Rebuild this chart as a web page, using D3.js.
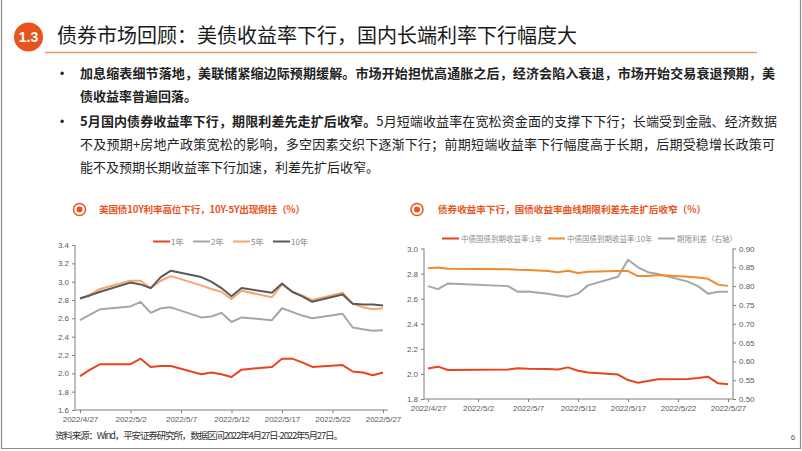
<!DOCTYPE html>
<html><head><meta charset="utf-8">
<script src="https://cdn.jsdelivr.net/npm/d3@7/dist/d3.min.js"></script>
<style>
html,body{margin:0;padding:0;background:#fff;}
svg{display:block;}
</style></head><body>
<svg id="c" width="802" height="451"></svg>
<script>
// ---------- DATA ----------
const usDates = ["2022-04-27","2022-04-28","2022-04-29","2022-05-02","2022-05-03","2022-05-04","2022-05-05","2022-05-06","2022-05-09","2022-05-10","2022-05-11","2022-05-12","2022-05-13","2022-05-16","2022-05-17","2022-05-18","2022-05-19","2022-05-20","2022-05-23","2022-05-24","2022-05-25","2022-05-26","2022-05-27"];
const us1Y  = [1.97,2.04,2.10,2.10,2.16,2.07,2.08,2.08,1.99,2.01,1.99,1.96,2.04,2.07,2.16,2.16,2.12,2.07,2.09,2.02,2.01,1.98,2.01];
const us2Y  = [2.58,2.64,2.70,2.73,2.78,2.66,2.71,2.72,2.61,2.62,2.66,2.56,2.61,2.58,2.71,2.67,2.63,2.60,2.65,2.50,2.48,2.465,2.47];
const us5Y  = [2.81,2.86,2.92,3.01,3.01,2.93,3.01,3.06,2.96,2.92,2.89,2.81,2.90,2.83,2.97,2.89,2.85,2.80,2.88,2.76,2.72,2.70,2.71];
const us10Y = [2.82,2.85,2.89,2.99,2.97,2.93,3.05,3.12,3.05,3.00,2.93,2.84,2.93,2.88,2.98,2.89,2.84,2.78,2.86,2.76,2.75,2.75,2.74];
const usNames = ["1年","2年","5年","10年"];

const cnDates = ["2022-04-27","2022-04-28","2022-04-29","2022-05-05","2022-05-06","2022-05-07","2022-05-09","2022-05-10","2022-05-11","2022-05-12","2022-05-13","2022-05-16","2022-05-17","2022-05-18","2022-05-19","2022-05-20","2022-05-23","2022-05-24","2022-05-25","2022-05-26","2022-05-27"];
const cn1Y   = [2.044,2.058,2.031,2.035,2.045,2.042,2.040,2.035,2.052,2.025,2.012,1.995,1.951,1.930,1.943,1.957,1.960,1.968,1.978,1.925,1.917];
const cn10Y  = [2.843,2.849,2.838,2.835,2.830,2.828,2.820,2.810,2.822,2.804,2.814,2.820,2.820,2.780,2.780,2.788,2.775,2.768,2.758,2.712,2.702];
const cnSpread = [0.800,0.792,0.807,0.800,0.785,0.786,0.780,0.775,0.772,0.780,0.802,0.825,0.870,0.850,0.837,0.832,0.812,0.800,0.780,0.785,0.785];
const cnNames = ["中债国债到期收益率:1年","中债国债到期收益率:10年","期限利差（右轴）"];

const xTickDates = ["2022-04-27","2022-05-02","2022-05-07","2022-05-12","2022-05-17","2022-05-22","2022-05-27"];
const leftYTicks = [1.6,1.8,2.0,2.2,2.4,2.6,2.8,3.0,3.2,3.4];
const rightLYTicks = [1.8,2.0,2.2,2.4,2.6,2.8,3.0];
const rightRYTicks = [0.50,0.55,0.60,0.65,0.70,0.75,0.80,0.85,0.90];

// ---------- SETUP ----------
const parse = d3.timeParse("%Y-%m-%d");
const fmt = d3.timeFormat("%Y/%-m/%-d");
const svg = d3.select("#c");
const CJK = "'Noto Sans CJK SC','Noto Sans',sans-serif";
const LAT = "'Liberation Sans',Arial,sans-serif";
const ORANGE = "#E8541E";

// page frame
svg.append("path").attr("d","M1.5,0 V448.5 H800.5 V0").attr("fill","none").attr("stroke","#8a8a8a").attr("stroke-width",1.2);

// header badge & title
svg.append("circle").attr("cx",28.5).attr("cy",37).attr("r",14.5).attr("fill",ORANGE);
svg.append("text").attr("x",28.5).attr("y",42).attr("text-anchor","middle").attr("fill","#fff")
  .attr("font-family",LAT).attr("font-weight","bold").attr("font-size",14).text("1.3");
svg.append("text").attr("x",57).attr("y",43).attr("font-family",CJK).attr("font-size",20).attr("fill","#1a1a1a")
  .attr("textLength",520).attr("lengthAdjust","spacing")
  .text("债券市场回顾：美债收益率下行，国内长端利率下行幅度大");
svg.append("line").attr("x1",45).attr("x2",757).attr("y1",52.5).attr("y2",52.5).attr("stroke","#E8976A").attr("stroke-width",1.5);

// bullets
function bulletLine(y, parts, len){
  const t = svg.append("text").attr("x",80).attr("y",y).attr("font-family",CJK).attr("font-size",13).attr("fill","#222");
  if(len) t.attr("textLength",len).attr("lengthAdjust","spacing");
  parts.forEach(p=>t.append("tspan").attr("font-weight",p[1]?"bold":"normal").text(p[0]));
}
[[78],[126]].forEach(b=>svg.append("text").attr("x",60).attr("y",b[0]).attr("font-family",LAT).attr("font-size",12).attr("fill","#222").text("•"));
bulletLine(78,[["加息缩表细节落地，美联储紧缩边际预期缓解。市场开始担忧高通胀之后，经济会陷入衰退，市场开始交易衰退预期，美",1]],695);
bulletLine(101,[["债收益率普遍回落。",1]]);
bulletLine(126,[["5月国内债券收益率下行，期限利差先走扩后收窄。",1],["5月短端收益率在宽松资金面的支撑下下行；长端受到金融、经济数据",0]],697);
bulletLine(149,[["不及预期+房地产政策宽松的影响，多空因素交织下逐渐下行；前期短端收益率下行幅度高于长期，后期受稳增长政策可",0]],695);
bulletLine(172,[["能不及预期长期收益率下行加速，利差先扩后收窄。",0]]);

// chart titles
function chartTitle(cx, tx, txt, len){
  svg.append("circle").attr("cx",cx).attr("cy",209.5).attr("r",6).attr("fill","none").attr("stroke",ORANGE).attr("stroke-width",1.5);
  svg.append("circle").attr("cx",cx).attr("cy",209.5).attr("r",3).attr("fill",ORANGE);
  svg.append("text").attr("x",tx).attr("y",213).attr("font-family",CJK).attr("font-weight","bold").attr("font-size",9.6)
    .attr("fill",ORANGE).attr("textLength",len).attr("lengthAdjust","spacing").text(txt);
}
chartTitle(79.5,99,"美国债10Y利率高位下行，10Y-5Y出现倒挂（%）",206);
chartTitle(417,438,"债券收益率下行，国债收益率曲线期限利差先走扩后收窄（%）",268);

// footer
svg.append("text").attr("x",55).attr("y",439).attr("font-family",CJK).attr("font-size",9.6).attr("fill","#333")
  .attr("textLength",288).attr("lengthAdjust","spacing")
  .text("资料来源：Wind，平安证券研究所，数据区间2022年4月27日-2022年5月27日。");
svg.append("text").attr("x",793).attr("y",440).attr("font-family",LAT).attr("font-size",8).attr("fill","#555").attr("text-anchor","middle").text("6");

function styleAxis(g){
  g.selectAll("path").remove();
  g.selectAll("line").attr("stroke","#7f7f7f");
  g.selectAll("text").attr("fill","#595959").attr("font-family",LAT).attr("font-size",8);
}

// ---------- LEFT CHART ----------
{
  const x = d3.scaleTime().domain([parse("2022-04-27"),parse("2022-05-27")]).range([80,383]);
  const y = d3.scaleLinear().domain([1.6,3.4]).range([410,245]);
  const L = {x0:75, x1:388};
  svg.append("line").attr("x1",L.x0).attr("x2",L.x0).attr("y1",245).attr("y2",410).attr("stroke","#7f7f7f");
  svg.append("line").attr("x1",L.x0).attr("x2",L.x1).attr("y1",410).attr("y2",410).attr("stroke","#7f7f7f");
  svg.append("g").attr("transform",`translate(${L.x0},0)`)
    .call(d3.axisLeft(y).tickValues(leftYTicks).tickFormat(d3.format(".1f")).tickSize(3).tickPadding(3)).call(styleAxis);
  svg.append("g").attr("transform","translate(0,410)")
    .call(d3.axisBottom(x).tickValues(xTickDates.map(parse)).tickFormat(fmt).tickSize(3).tickPadding(3)).call(styleAxis);
  const series = [us1Y,us2Y,us5Y,us10Y];
  const colors = ["#E8441E","#A6A6A6","#F5A66E","#5A5A5A"];
  const dates = usDates.map(parse);
  const line = d3.line().x((d,i)=>x(dates[i])).y(d=>y(d));
  [1,2,3,0].forEach(k=>{
    svg.append("path").datum(series[k]).attr("d",line).attr("fill","none").attr("stroke",colors[k]).attr("stroke-width",2).attr("stroke-linejoin","round");
  });
  const lx = [153,193,233,273];
  usNames.forEach((n,i)=>{
    svg.append("line").attr("x1",lx[i]).attr("x2",lx[i]+17).attr("y1",241.5).attr("y2",241.5).attr("stroke",colors[i]).attr("stroke-width",2);
    svg.append("text").attr("x",lx[i]+18).attr("y",244.5).attr("font-family",CJK).attr("font-size",8).attr("fill","#7f7f7f").text(n);
  });
}

// ---------- RIGHT CHART ----------
{
  const x = d3.scaleTime().domain([parse("2022-04-27"),parse("2022-05-27")]).range([428,728]);
  const y = d3.scaleLinear().domain([1.8,3.0]).range([399,248.5]);
  const y2 = d3.scaleLinear().domain([0.5,0.9]).range([399,248.5]);
  const R = {x0:424, x1:733};
  svg.append("line").attr("x1",R.x0).attr("x2",R.x0).attr("y1",248.5).attr("y2",399).attr("stroke","#7f7f7f");
  svg.append("line").attr("x1",R.x1).attr("x2",R.x1).attr("y1",248.5).attr("y2",399).attr("stroke","#7f7f7f");
  svg.append("line").attr("x1",R.x0).attr("x2",R.x1).attr("y1",399).attr("y2",399).attr("stroke","#7f7f7f");
  svg.append("g").attr("transform",`translate(${R.x0},0)`)
    .call(d3.axisLeft(y).tickValues(rightLYTicks).tickFormat(d3.format(".1f")).tickSize(3).tickPadding(3)).call(styleAxis);
  svg.append("g").attr("transform",`translate(${R.x1},0)`)
    .call(d3.axisRight(y2).tickValues(rightRYTicks).tickFormat(d3.format(".2f")).tickSize(3).tickPadding(3)).call(styleAxis);
  svg.append("g").attr("transform","translate(0,399)")
    .call(d3.axisBottom(x).tickValues(xTickDates.map(parse)).tickFormat(fmt).tickSize(3).tickPadding(3)).call(styleAxis);
  const dates = cnDates.map(parse);
  const l1 = d3.line().x((d,i)=>x(dates[i])).y(d=>y(d));
  const l2 = d3.line().x((d,i)=>x(dates[i])).y(d=>y2(d));
  const colors = ["#E8441E","#F08A2C","#A6A6A6"];
  svg.append("path").datum(cnSpread).attr("d",l2).attr("fill","none").attr("stroke",colors[2]).attr("stroke-width",2).attr("stroke-linejoin","round");
  svg.append("path").datum(cn10Y).attr("d",l1).attr("fill","none").attr("stroke",colors[1]).attr("stroke-width",2).attr("stroke-linejoin","round");
  svg.append("path").datum(cn1Y).attr("d",l1).attr("fill","none").attr("stroke",colors[0]).attr("stroke-width",2).attr("stroke-linejoin","round");
  const lx = [442,548,658];
  cnNames.forEach((n,i)=>{
    svg.append("line").attr("x1",lx[i]).attr("x2",lx[i]+17).attr("y1",238.5).attr("y2",238.5).attr("stroke",colors[i]).attr("stroke-width",2);
    svg.append("text").attr("x",lx[i]+19).attr("y",241.5).attr("font-family",CJK).attr("font-size",7.5).attr("fill","#8c8c8c").text(n);
  });
}
</script>
</body></html>
